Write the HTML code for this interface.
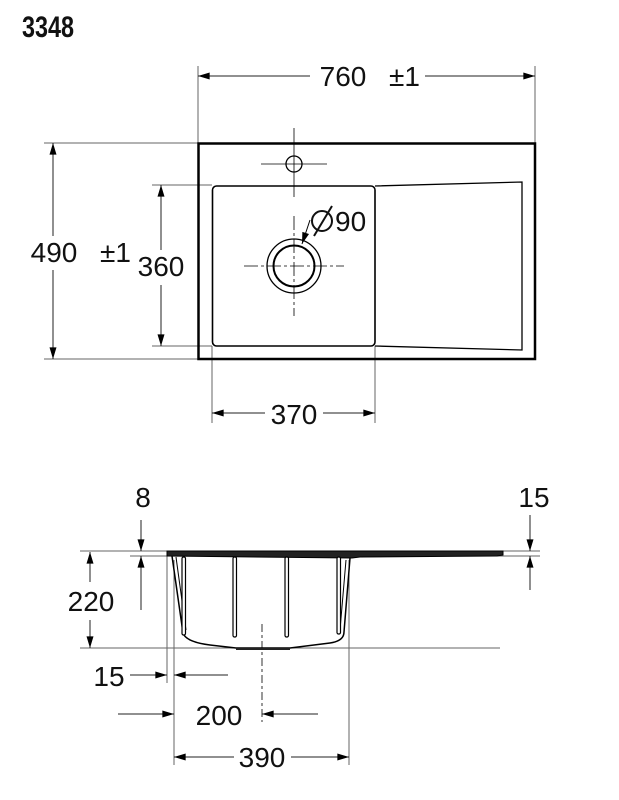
<!DOCTYPE html>
<html><head><meta charset="utf-8"><style>
html,body{margin:0;padding:0;background:#fff;}
svg{display:block}
text{font-family:"Liberation Sans","DejaVu Sans",sans-serif;fill:#111}
</style></head><body>
<svg width="619" height="800" viewBox="0 0 619 800" xmlns="http://www.w3.org/2000/svg">
<defs>
<marker id="a" viewBox="0 0 10 6" refX="10" refY="3" markerWidth="14" markerHeight="7" markerUnits="userSpaceOnUse" orient="auto"><path d="M0,0L10,3L0,6z" fill="#000"/></marker>
</defs>
<text x="0" y="37" style="font-family:'Liberation Sans',sans-serif;font-weight:bold;font-size:30px" transform="translate(22,0) scale(0.78,1)">3348</text>

<g stroke="#666" stroke-width="1" fill="none">
<line x1="198" y1="66" x2="198" y2="143"/><line x1="535" y1="66" x2="535" y2="143"/>
<line x1="44" y1="143" x2="198" y2="143"/><line x1="44" y1="359" x2="198" y2="359"/>
<line x1="152" y1="185" x2="212" y2="185"/><line x1="152" y1="346" x2="212" y2="346"/>
<line x1="212" y1="346" x2="212" y2="423"/><line x1="375" y1="346" x2="375" y2="423"/>
</g>
<g stroke="#222" stroke-width="1" fill="none">
<line x1="310" y1="76" x2="198" y2="76" marker-end="url(#a)"/><line x1="425" y1="76" x2="535" y2="76" marker-end="url(#a)"/>
<line x1="53" y1="236" x2="53" y2="143" marker-end="url(#a)"/><line x1="53" y1="270" x2="53" y2="359" marker-end="url(#a)"/>
<line x1="161" y1="250" x2="161" y2="185" marker-end="url(#a)"/><line x1="161" y1="285" x2="161" y2="346" marker-end="url(#a)"/>
<line x1="265" y1="413" x2="212" y2="413" marker-end="url(#a)"/><line x1="323" y1="413" x2="375" y2="413" marker-end="url(#a)"/>
</g>
<g font-size="28">
<text x="343" y="86" text-anchor="middle">760</text><text x="389" y="86">±1</text>
<text x="54" y="262" text-anchor="middle">490</text><text x="100" y="262">±1</text>
<text x="161" y="276" text-anchor="middle">360</text>
<text x="294" y="424" text-anchor="middle">370</text>
</g>

<rect x="198.5" y="143.5" width="336.5" height="215.5" fill="none" stroke="#000" stroke-width="2.5"/>
<rect x="212.5" y="186" width="162.5" height="160" rx="4" fill="none" stroke="#000" stroke-width="1.6"/>
<path d="M375,186 L522,182 L522,350 L375,346" fill="none" stroke="#000" stroke-width="1.3"/>
<circle cx="294" cy="164" r="8" fill="none" stroke="#000" stroke-width="1.3"/>
<g stroke="#000" stroke-width="0.8" fill="none">
<line x1="261" y1="164" x2="327" y2="164"/><line x1="294" y1="128" x2="294" y2="197"/>
<line x1="244" y1="266" x2="344" y2="266" stroke-dasharray="14,3,3,3"/><line x1="294" y1="216" x2="294" y2="316" stroke-dasharray="14,3,3,3"/>
</g>
<circle cx="294" cy="266" r="27" fill="none" stroke="#000" stroke-width="1.3"/>
<circle cx="294" cy="266" r="20.5" fill="none" stroke="#000" stroke-width="2"/>
<line x1="310" y1="220" x2="302" y2="244" stroke="#000" stroke-width="1" marker-end="url(#a)"/>
<circle cx="322" cy="221" r="10" fill="none" stroke="#111" stroke-width="2"/>
<line x1="314" y1="236" x2="332" y2="206" stroke="#111" stroke-width="2"/>
<text x="335" y="231" font-size="28">90</text>

<g stroke="#666" stroke-width="1" fill="none">
<line x1="80" y1="551" x2="167" y2="551"/><line x1="130" y1="556" x2="167" y2="556"/>
<line x1="80" y1="648" x2="500" y2="648"/>
<line x1="167" y1="551" x2="167" y2="683"/><line x1="174" y1="560" x2="174" y2="765"/>
<line x1="349" y1="560" x2="349" y2="765"/>
<line x1="503" y1="551" x2="540" y2="551"/><line x1="490" y1="556" x2="540" y2="556"/>
</g>
<g stroke="#000" stroke-width="0.8" fill="none"><line x1="262" y1="624" x2="262" y2="722" stroke-dasharray="8,3,3,3"/></g>
<path d="M167,551 L503,551 L503,555 L497,556 L360,557 L352,558 L167,556 Z" fill="#222" stroke="#000" stroke-width="1"/>
<path d="M172,556 L183,633 Q186,642 210,645 L236,648 L290,648 L330,643 Q344,641 344,632 L350,558" fill="none" stroke="#000" stroke-width="1.5"/>
<path d="M176,557 L186,630" fill="none" stroke="#000" stroke-width="1"/>
<path d="M346,560 L340,630" fill="none" stroke="#000" stroke-width="1"/>
<path d="M236,648 L290,648 L290,650 L236,650 Z" fill="#222"/>
<g fill="#fff" stroke="#000" stroke-width="1.2">
<rect x="182" y="557" width="3.5" height="78" rx="1.5"/>
<rect x="233" y="557" width="3.5" height="80" rx="1.5"/>
<rect x="285" y="557" width="3.5" height="80" rx="1.5"/>
<rect x="337" y="557" width="3.5" height="77" rx="1.5"/>
</g>
<g stroke="#222" stroke-width="1" fill="none">
<line x1="141" y1="520" x2="141" y2="551" marker-end="url(#a)"/><line x1="141" y1="610" x2="141" y2="556" marker-end="url(#a)"/>
<line x1="90" y1="582" x2="90" y2="552" marker-end="url(#a)"/><line x1="90" y1="620" x2="90" y2="648" marker-end="url(#a)"/>
<line x1="530" y1="515" x2="530" y2="551" marker-end="url(#a)"/><line x1="530" y1="590" x2="530" y2="556" marker-end="url(#a)"/>
<line x1="130" y1="675" x2="167" y2="675" marker-end="url(#a)"/><line x1="228" y1="675" x2="174" y2="675" marker-end="url(#a)"/>
<line x1="118" y1="714" x2="174" y2="714" marker-end="url(#a)"/><line x1="318" y1="714" x2="262" y2="714" marker-end="url(#a)"/>
<line x1="234" y1="757" x2="174" y2="757" marker-end="url(#a)"/><line x1="291" y1="757" x2="349" y2="757" marker-end="url(#a)"/>
</g>
<g font-size="28">
<text x="143" y="507" text-anchor="middle">8</text>
<text x="534" y="507" text-anchor="middle">15</text>
<text x="91" y="611" text-anchor="middle">220</text>
<text x="109" y="686" text-anchor="middle">15</text>
<text x="219" y="725" text-anchor="middle">200</text>
<text x="262" y="767" text-anchor="middle">390</text>
</g>
</svg>
</body></html>
